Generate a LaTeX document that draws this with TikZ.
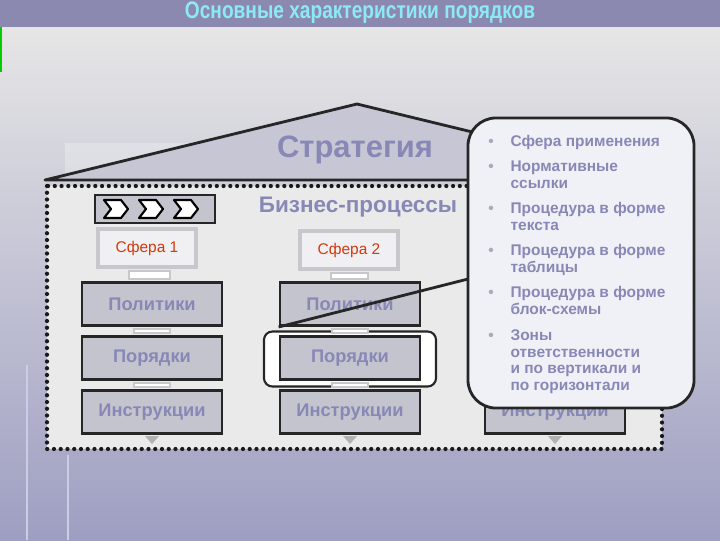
\documentclass[tikz,border=0pt]{standalone}
\usepackage{fontspec}
\setmainfont{Liberation Sans}
\usetikzlibrary{calc,positioning}

\definecolor{barcol}{RGB}{140,137,176}
\definecolor{titlecol}{RGB}{140,234,246}
\definecolor{bgtop}{RGB}{230,230,230}
\definecolor{bgbot}{RGB}{158,158,194}
\definecolor{txtcol}{RGB}{136,136,182}
\definecolor{boxcol}{RGB}{196,196,206}
\definecolor{roofcol}{RGB}{198,198,212}
\definecolor{innercol}{RGB}{234,234,234}
\definecolor{sferared}{RGB}{214,56,10}
\definecolor{sferaedge}{RGB}{200,200,204}
\definecolor{sferafill}{RGB}{240,240,242}
\definecolor{notecol}{RGB}{240,240,247}
\definecolor{bulcol}{RGB}{170,170,190}
\definecolor{faintcol}{RGB}{204,204,226}

\begin{document}
\begin{tikzpicture}[x=0.025cm, y=-0.025cm,
  lvlbox/.style={draw=black!85, line width=2pt, fill=boxcol, minimum width=3.5cm,
    minimum height=1.08cm, text=txtcol, font=\bfseries\fontsize{13}{15}\selectfont},
  sferabox/.style={draw=sferaedge, line width=3pt, fill=sferafill, minimum width=2.45cm,
    minimum height=0.95cm, text=sferared, font=\fontsize{11}{13}\selectfont},
  link/.style={draw=sferaedge, line width=1pt, fill=white},
  ptr/.style={draw=black!85, line width=2pt},
  dotline/.style={draw=black!90, line width=3pt, line cap=round, dash pattern=on 0pt off 4.8pt}
]
        \useasboundingbox (0,0) rectangle (720,540);

        % Background and title bar.
        \shade[top color=bgtop, bottom color=bgbot] (0,27) rectangle (720,540);
        \fill[barcol] (0,0) rectangle (720,27);
        \node[text=titlecol, font=\bfseries\fontsize{17}{20}\selectfont] (title) at (360,13)
        {\scalebox{0.8}[1]{Основные характеристики порядков}};
        \draw[green!80!black, line width=2pt] (1,27) -- (1,72);
        \draw[faintcol, line width=2pt] (27,365) -- (27,540);
        \draw[faintcol, line width=2pt] (68,455) -- (68,540);
        \fill[white, opacity=0.25] (65,143) rectangle (470,180);

        % Roof.
        \coordinate (roofL) at (45,180);
        \coordinate (roofT) at (357,104);
        \coordinate (roofR) at (670,180);
        \filldraw[fill=roofcol, draw=black!85, line width=2pt, line join=round]
        (roofL) -- (roofT) -- (roofR) -- cycle;
        \node[text=txtcol, font=\bfseries\fontsize{22}{26}\selectfont] (strat) at (355,150) {Стратегия};

        % Process area.
        \filldraw[fill=innercol, dotline] (47,186) rectangle (662,449);
        \node[text=txtcol, font=\bfseries\fontsize{16}{18}\selectfont] (bp) at (358,207) {Бизнес-процессы};
        \node[draw=black!85, line width=1.5pt, fill=boxcol, minimum width=3cm,
        minimum height=0.7cm] (chev) at (155,209) {};
        \foreach \cx in {116,151,186} {
          \draw[fill=white, line width=1.5pt, line join=round]
          (\cx-12,200) -- (\cx+5,200) -- (\cx+12,209) -- (\cx+5,218) -- (\cx-12,218) -- (\cx-5,209) -- cycle;
        }

        % Columns.
        \node[sferabox] (sf1) at (147,248) {Сфера 1};
        \node[sferabox] (sf2) at (349,250) {Сфера 2};
        \node[lvlbox] (pol1) at (152,304) {Политики};
        \node[lvlbox] (por1) at (152,358) {Порядки};
        \node[lvlbox] (ins1) at (152,412) {Инструкции};
        \node[lvlbox] (pol2) at (350,304) {Политики};
        \node[lvlbox] (ins2) at (350,412) {Инструкции};
        \node[lvlbox] (ins3) at (555,412) {Инструкции};

        % Highlighted order box.
        \node[draw=black!85, line width=1.5pt, fill=white, rounded corners=6pt,
        minimum width=4.3cm, minimum height=1.375cm] (hl) at (350,359) {};
        \node[lvlbox] (por2) at (350,358) {Порядки};

        \foreach \a/\b in {sf1/pol1, pol1/por1, por1/ins1, sf2/pol2, pol2/por2, por2/ins2} {
          \draw[link] ($(\a.south)+(-18,2)$) rectangle ($(\b.north)+(18,-2)$);
        }
        \foreach \b in {ins1, ins2, ins3} {
          \fill[black!30] ($(\b.south)+(-7,1)$) -- ($(\b.south)+(7,1)$) -- ($(\b.south)+(0,9)$) -- cycle;
        }

        % Callout.
        \coordinate (tip) at (472,278);
        \draw[ptr] (pol2.south west) -- (tip);
        \node[draw=black!85, line width=2pt, fill=notecol, rounded corners=0.7cm,
        minimum width=5.65cm, minimum height=7.25cm] (note) at (581,263) {};
        \node[anchor=north west, inner sep=0pt, text=txtcol,
        font=\bfseries\fontsize{11}{12}\selectfont] (notetext) at (488,134)
        {\begin{tabular}{@{}l@{\hspace{12pt}}l@{}}
          \textcolor{bulcol}{\textbullet} & Сфера применения\\[6pt]
          \textcolor{bulcol}{\textbullet} & Нормативные\\
          & ссылки\\[6pt]
          \textcolor{bulcol}{\textbullet} & Процедура в форме\\
          & текста\\[6pt]
          \textcolor{bulcol}{\textbullet} & Процедура в форме\\
          & таблицы\\[6pt]
          \textcolor{bulcol}{\textbullet} & Процедура в форме\\
          & блок-схемы\\[6pt]
          \textcolor{bulcol}{\textbullet} & Зоны\\
          & ответственности\\
          & и по вертикали и\\
          & по горизонтали
        \end{tabular}};
\end{tikzpicture}
\end{document}
